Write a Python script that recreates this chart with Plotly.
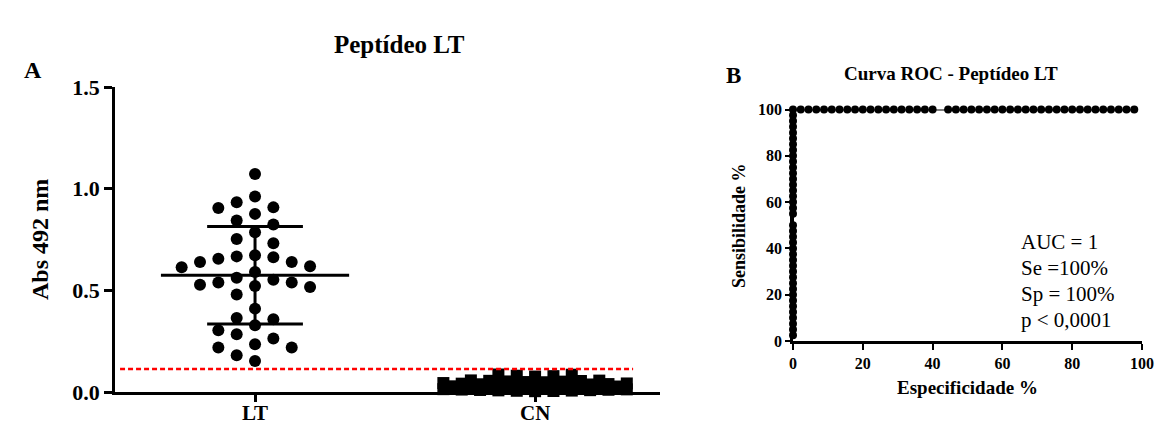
import plotly.graph_objects as go

# ---------------- data ----------------
groups = ["LT", "CN"]
lt_values = [1.072, 0.961, 0.905, 0.933, 0.876, 0.908, 0.824, 0.843, 0.786, 0.753,
             0.732, 0.672, 0.663, 0.639, 0.618, 0.590, 0.614, 0.639, 0.655, 0.667,
             0.562, 0.538, 0.528, 0.516, 0.521, 0.538, 0.552, 0.480, 0.410, 0.358,
             0.364, 0.304, 0.328, 0.284, 0.219, 0.235, 0.263, 0.219, 0.181, 0.153]
cn_values = [0.085, 0.080, 0.076, 0.078, 0.086,
             0.055, 0.052, 0.057, 0.049, 0.054, 0.051, 0.056, 0.048,
             0.036, 0.041, 0.033, 0.044, 0.038, 0.031, 0.042, 0.035, 0.039, 0.032, 0.037,
             0.021, 0.026, 0.018, 0.028, 0.023, 0.016, 0.025, 0.020, 0.027, 0.019,
             0.008, 0.012, 0.005, 0.010, 0.013, 0.007, 0.011, 0.004, 0.009, 0.006, 0.014]
group_mean = [0.574, 0.028]
group_sd = [0.240, 0.020]
cutoff = 0.113

roc_sens_at_spec0 = [2.5, 5, 7.5, 10, 12.5, 15, 17.5, 20, 22.5, 25, 27.5, 30, 32.5, 35,
                     37.5, 40, 42.5, 45, 47.5, 50, 55, 57.5, 60, 62.5, 65, 67.5, 70,
                     72.5, 75, 77.5, 80, 82.5, 85, 87.5, 90, 92.5, 95, 97.5, 100]
roc_spec_at_sens100 = [2.22, 4.44, 6.67, 8.89, 11.11, 13.33, 15.56, 17.78, 20.0, 22.22,
                       24.44, 26.67, 28.89, 31.11, 33.33, 35.56, 37.78, 40.0, 44.44,
                       46.67, 48.89, 51.11, 53.33, 55.56, 57.78, 60.0, 62.22, 64.44,
                       66.67, 68.89, 71.11, 73.33, 75.56, 77.78, 80.0, 82.22, 84.44,
                       86.67, 88.89, 91.11, 93.33, 95.56, 97.78]
roc_text = ["AUC = 1", "Se =100%", "Sp = 100%", "p < 0,0001"]

W, H = 1158, 425
SERIF = "Liberation Serif, Times New Roman, serif"


def swarm_greedy(values, center, min_dv, step):
    """Place each value (highest first) in the nearest free column slot."""
    placed = {}
    xs, ys = [], []
    for v in sorted(values, reverse=True):
        k = 0
        while True:
            for s in ([0] if k == 0 else [-k, k]):
                if all(abs(v - u) >= min_dv for u in placed.get(s, [])):
                    placed.setdefault(s, []).append(v)
                    xs.append(center + s * step)
                    ys.append(v)
                    break
            else:
                k += 1
                continue
            break
    return xs, ys


def swarm_rows(values, center, row_h, step):
    """GraphPad-like rows: bin by value, centre each row, highest values outside."""
    rows = {}
    for v in values:
        rows.setdefault(int(v // row_h), []).append(v)
    xs, ys = [], []
    for r, vals in rows.items():
        vals = sorted(vals, reverse=True)
        n = len(vals)
        offs = [(i - (n - 1) / 2) for i in range(n)]
        order = sorted(offs, key=lambda o: (-abs(o), o))
        for v, o in zip(vals, order):
            xs.append(center + o * step)
            ys.append(v)
    return xs, ys


def px(xp):
    return xp / W


def py(yp):
    return 1 - yp / H


fig = go.Figure()

step = 0.0655
lx, ly = swarm_greedy(lt_values, 1, 0.068, step)
cx, cy = swarm_rows(cn_values, 2, 0.015, step)

fig.add_trace(go.Scatter(x=lx, y=ly, mode="markers", xaxis="x", yaxis="y",
                         marker=dict(symbol="circle", size=12, color="black"),
                         cliponaxis=False, showlegend=False))
fig.add_trace(go.Scatter(x=cx, y=cy, mode="markers", xaxis="x", yaxis="y",
                         marker=dict(symbol="square", size=12, color="black"),
                         cliponaxis=False, showlegend=False))

# mean +/- SD lines
for i, g in enumerate(groups):
    c = i + 1
    m, s = group_mean[i], group_sd[i]
    fig.add_trace(go.Scatter(x=[c - 0.336, c + 0.336], y=[m, m], mode="lines",
                             line=dict(color="black", width=3), xaxis="x", yaxis="y",
                             showlegend=False, cliponaxis=False))
    fig.add_trace(go.Scatter(x=[c, c], y=[m - s, m + s], mode="lines",
                             line=dict(color="black", width=3), xaxis="x", yaxis="y",
                             showlegend=False, cliponaxis=False))
    for e in (m - s, m + s):
        fig.add_trace(go.Scatter(x=[c - 0.171, c + 0.171], y=[e, e], mode="lines",
                                 line=dict(color="black", width=3), xaxis="x", yaxis="y",
                                 showlegend=False, cliponaxis=False))

# cutoff line
fig.add_trace(go.Scatter(x=[0.518, 2.35], y=[cutoff, cutoff], mode="lines",
                         line=dict(color="#ff0000", width=2.5, dash="5px,3px"),
                         xaxis="x", yaxis="y", showlegend=False))

# ROC curve
roc_x = [0] * len(roc_sens_at_spec0) + roc_spec_at_sens100
roc_y = roc_sens_at_spec0 + [100] * len(roc_spec_at_sens100)
fig.add_trace(go.Scatter(x=roc_x, y=roc_y, mode="lines+markers", xaxis="x2", yaxis="y2",
                         line=dict(color="black", width=2),
                         marker=dict(size=8, color="black"),
                         cliponaxis=False, showlegend=False))

tick_font_a = dict(family=SERIF, size=22, color="black", weight="bold")
tick_font_b = dict(family=SERIF, size=16, color="black", weight="bold")
common = dict(showline=True, linecolor="black", linewidth=2.5, ticks="outside",
              tickcolor="black", showgrid=False, zeroline=False, automargin=False)

fig.update_layout(
    width=W, height=H, autosize=False,
    margin=dict(l=0, r=0, t=0, b=0, pad=0),
    paper_bgcolor="white", plot_bgcolor="white",
    showlegend=False,
    xaxis=dict(domain=[px(115), px(660)], range=[0.5, 2.446],
               tickmode="array", tickvals=[1, 2], ticktext=groups,
               showticklabels=False,
               ticklen=7, tickwidth=2.5, **common),
    yaxis=dict(domain=[py(392), py(87)], range=[0, 1.5],
               tickmode="array", tickvals=[0, 0.5, 1.0, 1.5],
               ticktext=["0.0", "0.5", "1.0", "1.5"],
               ticklen=8, tickwidth=2.5, tickfont=tick_font_a, **common),
    xaxis2=dict(domain=[px(793), px(1142)], range=[0, 100], anchor="y2",
                tickmode="array", tickvals=[0, 20, 40, 60, 80, 100],
                ticklen=6, tickwidth=2, tickfont=tick_font_b, **common),
    yaxis2=dict(domain=[py(341), py(109.5)], range=[0, 100], anchor="x2",
                tickmode="array", tickvals=[0, 20, 40, 60, 80, 100],
                ticklen=5, tickwidth=2, tickfont=tick_font_b, **common),
)

# category labels of panel A (placed at the category positions of the x axis)
for i, g in enumerate(groups):
    fig.add_annotation(text=g, x=i + 1, y=py(413), xref="x", yref="paper",
                       xanchor="center", yanchor="middle", showarrow=False,
                       font=dict(family=SERIF, size=21, color="black", weight="bold"))

ann = [
    dict(text="A", x=px(33), y=py(70), size=24),
    dict(text="Peptídeo LT", x=px(399), y=py(45), size=25),
    dict(text="Abs 492 nm", x=px(40), y=py(240), size=24, angle=-90),
    dict(text="B", x=px(733), y=py(75), size=23),
    dict(text="Curva ROC - Peptídeo LT", x=px(951), y=py(73), size=19),
    dict(text="Sensibilidade %", x=px(739), y=py(226), size=18, angle=-90),
    dict(text="Especificidade %", x=px(967), y=py(387), size=19),
]
for a in ann:
    fig.add_annotation(text=a["text"], x=a["x"], y=a["y"], xref="paper", yref="paper",
                       xanchor="center", yanchor="middle", showarrow=False,
                       textangle=a.get("angle", 0),
                       font=dict(family=SERIF, size=a["size"], color="black", weight="bold"))

roc_text_y = [242, 268, 294, 320]
for t, yy in zip(roc_text, roc_text_y):
    fig.add_annotation(text=t, x=px(1019), y=py(yy), xref="paper", yref="paper",
                       xanchor="left", yanchor="middle", showarrow=False,
                       font=dict(family=SERIF, size=21, color="black"))

fig.write_html("out.html", config={"responsive": False, "displayModeBar": False},
               post_script="document.body.style.margin='0';"
                           "document.body.style.overflow='hidden';")
